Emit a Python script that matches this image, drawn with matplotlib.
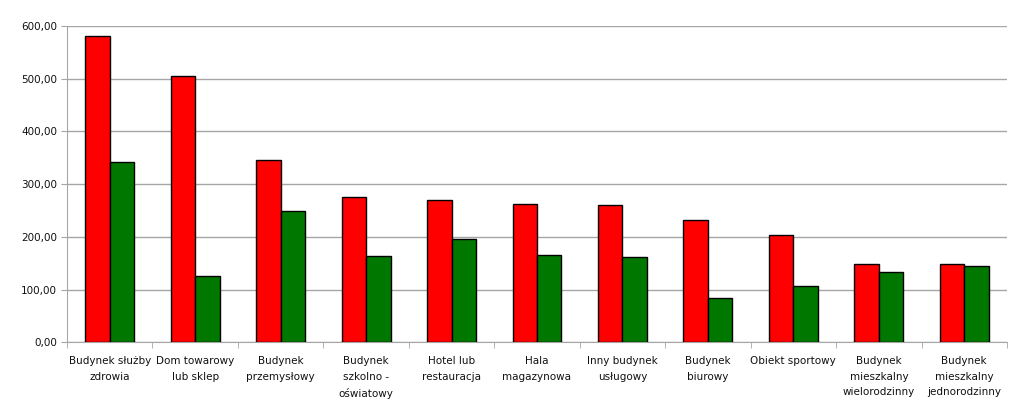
import matplotlib
matplotlib.use("Agg")
import matplotlib.pyplot as plt
from matplotlib.ticker import FuncFormatter, MultipleLocator, FixedLocator
import numpy as np

categories = [
    "Budynek służby\nzdrowia",
    "Dom towarowy\nlub sklep",
    "Budynek\nprzemysłowy",
    "Budynek\nszkolno -\noświatowy",
    "Hotel lub\nrestauracja",
    "Hala\nmagazynowa",
    "Inny budynek\nusługowy",
    "Budynek\nbiurowy",
    "Obiekt sportowy",
    "Budynek\nmieszkalny\nwielorodzinny",
    "Budynek\nmieszkalny\njednorodzinny",
]
red_values = [580, 505, 345, 275, 270, 262, 260, 232, 204, 149, 149]
green_values = [342, 125, 249, 163, 196, 166, 161, 85, 107, 133, 145]

fig = plt.figure(figsize=(10.24, 4.11), dpi=100)
ax = fig.add_axes([0.0654, 0.167, 0.918, 0.770])

x = np.arange(len(categories))
w = 0.286
ax.bar(x - w / 2, red_values, w, color="#ff0000", edgecolor="black", linewidth=1, zorder=3)
ax.bar(x + w / 2, green_values, w, color="#007800", edgecolor="black", linewidth=1, zorder=3)

ax.set_xlim(-0.5, len(categories) - 0.5)
ax.set_ylim(0, 600)
ax.yaxis.set_major_locator(MultipleLocator(100))
ax.yaxis.set_major_formatter(FuncFormatter(lambda v, p: f"{v:.2f}".replace(".", ",")))
ax.grid(axis="y", color="#a6a6a6", linewidth=1, zorder=0)

ax.set_xticks(x)
ax.set_xticklabels(categories, fontsize=7.5, linespacing=1.7, color="#111111")
ax.tick_params(axis="x", length=0, pad=10)
ax.xaxis.set_minor_locator(FixedLocator(np.arange(-0.5, len(categories), 1.0)))
ax.tick_params(axis="x", which="minor", length=4, color="#a6a6a6")
ax.tick_params(axis="y", length=4, color="#a6a6a6", labelsize=7.5, labelcolor="#111111", pad=3)

for s in ["top", "right"]:
    ax.spines[s].set_visible(False)
for s in ["left", "bottom"]:
    ax.spines[s].set_color("#a6a6a6")

fig.savefig("out.png", dpi=100)
